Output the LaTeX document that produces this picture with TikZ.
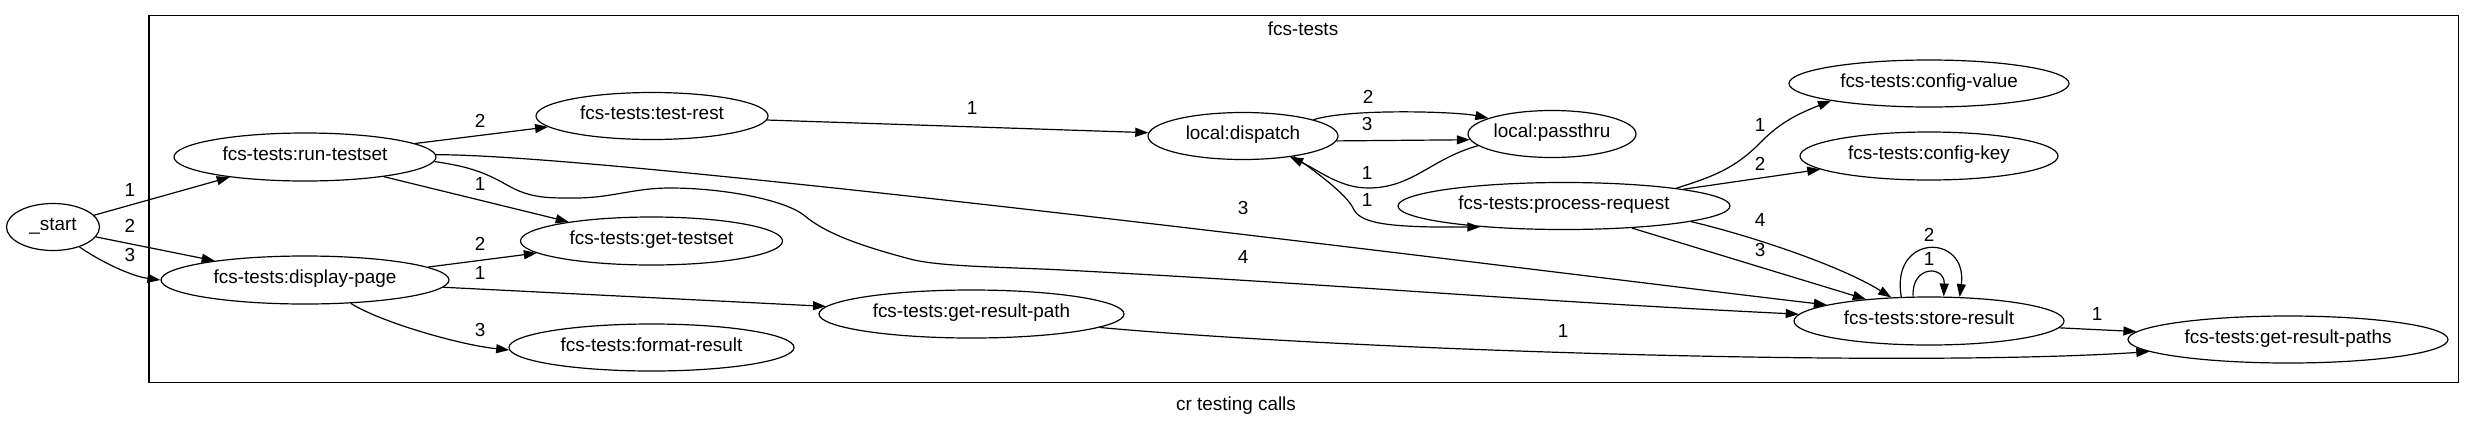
\documentclass[tikz,border=0pt]{standalone}
\usepackage{fontspec}
\setmainfont{Liberation Sans}
\usetikzlibrary{shapes.geometric,arrows.meta}
\begin{document}
\begin{tikzpicture}[x=1pt,y=-1pt,
  every node/.style={font=\fontsize{18.9}{22}\selectfont, text height=0.72em, text depth=0pt, inner sep=0pt},
  gnode/.style={draw, ellipse, line width=1.2pt, inner sep=0pt, minimum height=47pt},
  edge/.style={draw, line width=1.2pt, -{Triangle[length=13pt,width=9pt]}},
  boxstyle/.style={draw, line width=1.2pt, inner sep=0pt}]
\useasboundingbox (0,0) rectangle (2475,432);
% cluster
\node[boxstyle, minimum width=2309.5pt, minimum height=367pt] (cluster) at (1303.75,199.2) {};
\node (clabel) at (1303,31.7) {fcs-tests};
\node (caption) at (1236,407) {cr testing calls};
% nodes
\node[gnode, minimum width=93pt] (start) at (53,227) {\_start};
\node[gnode, minimum width=262pt, minimum height=48pt] (run) at (305,157) {fcs-tests:run-testset};
\node[gnode, minimum width=288pt, minimum height=48pt] (disp) at (305,280) {fcs-tests:display-page};
\node[gnode, minimum width=232pt] (trest) at (652,116) {fcs-tests:test-rest};
\node[gnode, minimum width=262pt, minimum height=48pt] (gts) at (651.5,241) {fcs-tests:get-testset};
\node[gnode, minimum width=285pt] (fmt) at (651.5,347.5) {fcs-tests:format-result};
\node[gnode, minimum width=305pt, minimum height=48pt] (grp) at (971.5,314) {fcs-tests:get-result-path};
\node[gnode, minimum width=190pt] (disq) at (1243,136) {local:dispatch};
\node[gnode, minimum width=168pt] (pass) at (1552,134) {local:passthru};
\node[gnode, minimum width=332pt] (proc) at (1564,206) {fcs-tests:process-request};
\node[gnode, minimum width=280pt] (cval) at (1929,83.5) {fcs-tests:config-value};
\node[gnode, minimum width=258pt, minimum height=48pt] (ckey) at (1929,156) {fcs-tests:config-key};
\node[gnode, minimum width=270pt, minimum height=48pt] (store) at (1929,321) {fcs-tests:store-result};
\node[gnode, minimum width=320pt] (grps) at (2288,339.5) {fcs-tests:get-result-paths};
% edges
\draw[edge] (start.16) -- (run.195.3);
\draw[edge] (start.347.5) -- (disp.168.3);
\draw[edge] (start.323.5) .. controls (98,260) and (130,276) .. (disp.180);
\draw[edge] (run.7.3) -- (trest.186.9);
\draw[edge] (run.346) -- (gts.167.1);
\draw[edge] (disp.6.8) -- (gts.186.1);
\draw[edge] (disp.357.2) -- (grp.177.2);
\draw[edge] (disp.333) .. controls (380,322) and (460,345) .. (fmt.181.7);
\draw[edge] (run.1) .. controls (626,154) and (1636,283) .. (store.171);
\draw[edge] (run.358.7) .. controls (464.4,166) and (481.9,170.5) .. (507,185)
  .. controls (530.4,198.5) and (548,198) .. (575,198)
  .. controls (612,198) and (633,188) .. (670,188)
  .. controls (724,188) and (785.8,200) .. (805,216)
  .. controls (828,235.3) and (867.5,247.6) .. (910,259)
  .. controls (939,266.8) and (1003,266.9) .. (1063,270)
  .. controls (1349,285) and (1509,300) .. (store.177.4);
\draw[edge] (trest.358) -- (disq.178);
\draw[edge] (disq.13) .. controls (1349,108.3) and (1456,111.5) .. (pass.166.7);
\draw[edge] (disq.357.6) -- (pass.184);
\draw[edge] (pass.189.4) .. controls (1431,158.6) and (1413,188) .. (1368,188)
  .. controls (1340,188) and (1318,170) .. (disq.336.5);
\draw[edge] (disq.338) .. controls (1312,168.5) and (1346.7,194.4) .. (1353,208)
  .. controls (1359.3,221.6) and (1378,228) .. (proc.194.7);
\draw[edge] (proc.9.5) .. controls (1715,176) and (1735,168) .. (1760,143)
  .. controls (1780,122) and (1800,113) .. (cval.190.7);
\draw[edge] (proc.8) -- (ckey.187.6);
\draw[edge] (proc.353.3) .. controls (1752,236) and (1841,266) .. (store.148);
\draw[edge] (proc.342.3) -- (store.161.6);
\draw[edge] (store.123.9) .. controls (1911,265) and (1945,265) .. (store.59.5);
\draw[edge] (store.139.3) .. controls (1890,233) and (1968,233) .. (store.38.9);
\draw[edge] (store.357.6) -- (grps.177.4);
\draw[edge] (grp.354.5) .. controls (1348,350) and (1900,368) .. (grps.185.5);
% edge labels
\node (l1) at (130,192.7) {1};
\node (l2) at (130,229) {2};
\node (l3) at (130,258) {3};
\node (l4) at (480,124) {2};
\node (l5) at (480,187) {1};
\node (l6) at (480,247) {2};
\node (l7) at (480,276) {1};
\node (l8) at (480,333) {3};
\node (l9) at (1243,210.7) {3};
\node (l10) at (1243,260) {4};
\node (l11) at (972,110.7) {1};
\node (l12) at (1368,100) {2};
\node (l13) at (1367,127) {3};
\node (l14) at (1367,176) {1};
\node (l15) at (1367,203) {1};
\node (l16) at (1760,128) {1};
\node (l17) at (1760,166.7) {2};
\node (l18) at (1760,222.7) {4};
\node (l19) at (1760,253.3) {3};
\node (l20) at (1929,261.7) {1};
\node (l21) at (1929,238) {2};
\node (l22) at (2097,316.7) {1};
\node (l23) at (1563,334) {1};
\end{tikzpicture}
\end{document}
